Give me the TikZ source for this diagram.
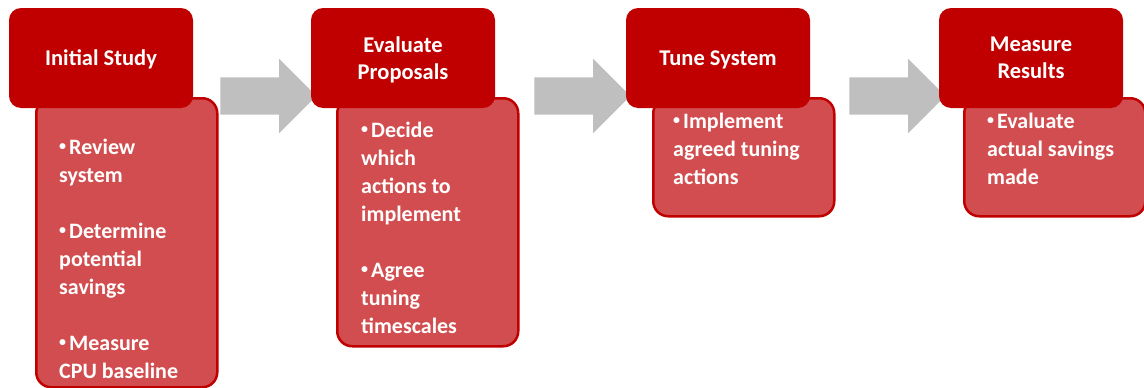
\documentclass[tikz,border=0pt]{standalone}
\usepackage{fontspec}
\setmainfont{Carlito}
\usetikzlibrary{shapes.arrows}
\definecolor{stepred}{RGB}{192,0,0}
\definecolor{bodyred}{RGB}{210,77,79}
\definecolor{arrowgray}{RGB}{191,191,191}
\newcommand{\bul}{\raisebox{4pt}{\fontsize{14}{14}\selectfont\textbullet}\hspace{3pt}}
\begin{document}
\begin{tikzpicture}
      [x=1pt,y=-1pt,
       head/.style={rectangle,rounded corners=12pt,fill=stepred,text=white,
         minimum width=184pt,minimum height=100pt,align=center,text depth=0pt,
         font=\fontsize{22.5}{27}\selectfont\bfseries},
       body/.style={rectangle,rounded corners=15pt,fill=bodyred,draw=stepred,
         line width=2.5pt,minimum width=181pt,anchor=north west},
       items/.style={anchor=north west,inner sep=0pt,text=white,align=left,
         font=\fontsize{22}{28}\selectfont\bfseries},
       flowarrow/.style={single arrow,fill=arrowgray,minimum height=96pt,
         inner xsep=0pt,inner ysep=18.5pt,single arrow head extend=18.5pt}]
      \useasboundingbox (0,0) rectangle (1144,388);

      \foreach \n/\x in {a1/259, a2/573, a3/888}
      \node[flowarrow] (\n) at (\x,96) {};

      \node[body,minimum height=289pt] (b1) at (35,97) {};
      \node[body,minimum height=248pt] (b2) at (336,97) {};
      \node[body,minimum height=118pt] (b3) at (652,97) {};
      \node[body,minimum height=118pt] (b4) at (963,97) {};

      \node[head] (h1) at (101,58) {Initial Study};
      \node[head] (h2) at (403,58) {Evaluate\\Proposals};
      \node[head] (h3) at (718,58) {Tune System};
      \node[head] (h4) at (1031,58) {Measure\\Results};

      \node[items] (t1) at (59,139) {\bul Review\\system\\[28pt]
        \bul Determine\\potential\\savings\\[28pt]
        \bul Measure\\CPU baseline};
      \node[items] (t2) at (361,122) {\bul Decide\\which\\actions to\\implement\\[28pt]
        \bul Agree\\tuning\\timescales};
      \node[items] (t3) at (673,113) {\bul Implement\\agreed tuning\\actions};
      \node[items] (t4) at (987,113) {\bul Evaluate\\actual savings\\made};
    \end{tikzpicture}
\end{document}
